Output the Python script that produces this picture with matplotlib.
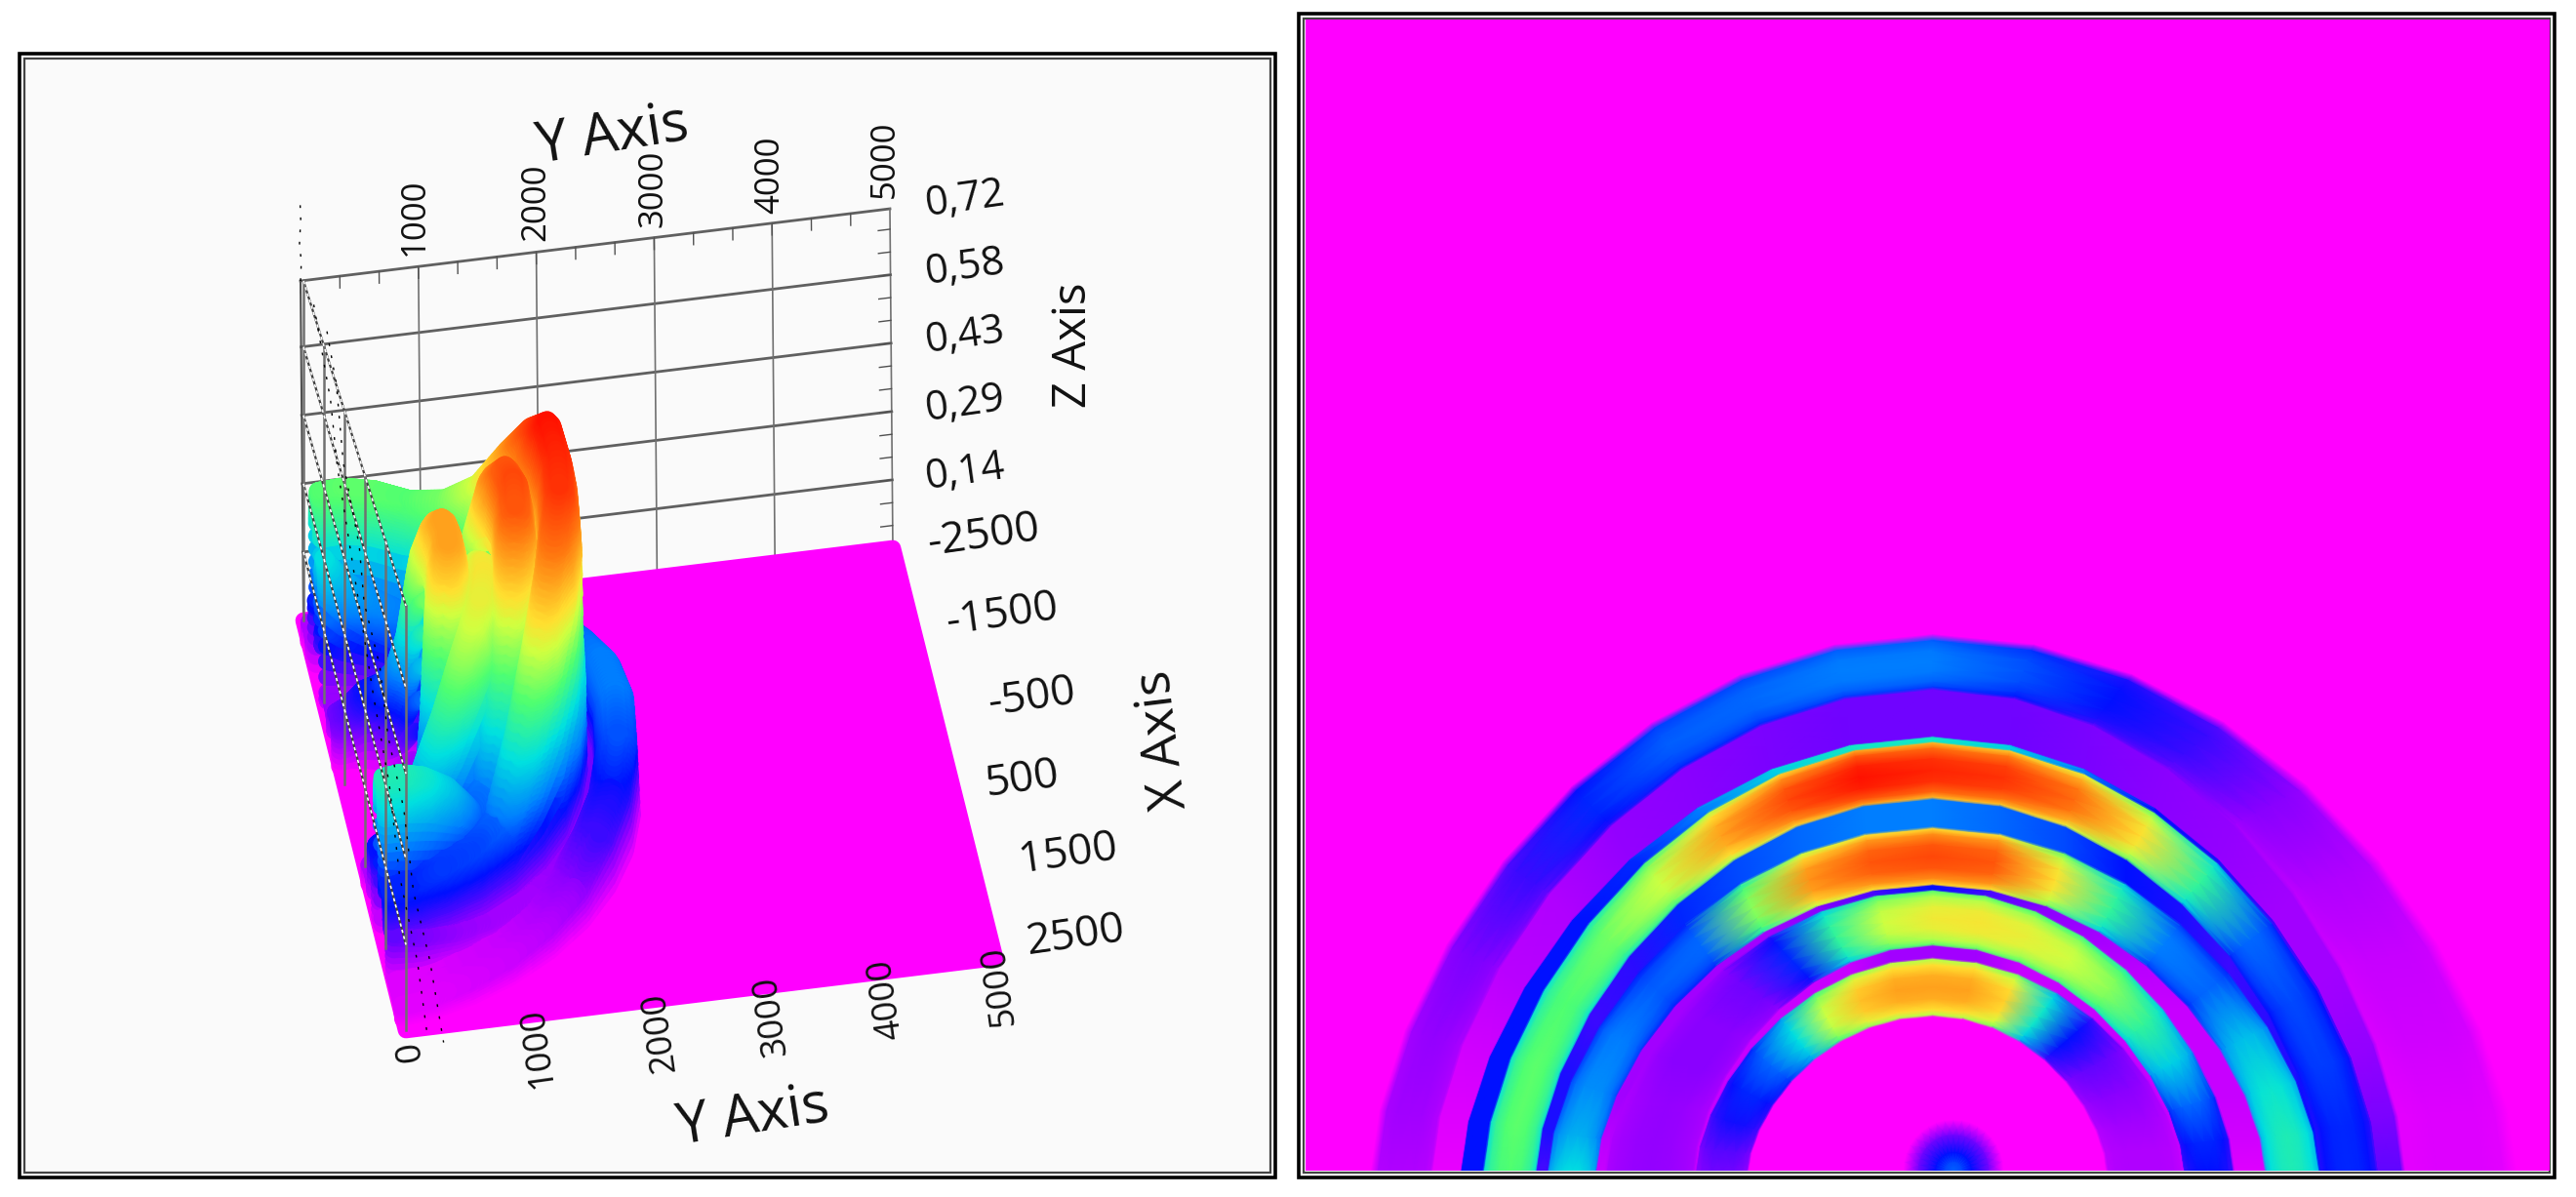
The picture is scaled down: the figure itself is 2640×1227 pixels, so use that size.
import numpy as np
import matplotlib
matplotlib.use("Agg")
import matplotlib.pyplot as plt
from matplotlib.colors import LinearSegmentedColormap
from matplotlib.patches import Rectangle

plt.rcParams['font.family'] = ['Open Sans', 'DejaVu Sans']

# ring outlines: Y at the crown, X at the bottom edge
band_names = ["a", "b", "bc", "c", "cd", "d", "de", "e", "ef", "f"]
band_domed = [True, False, False, True, False, True, False, True, False, True]
top_outer = [2330, 2093, 1881, 1864, 1614, 1491, 1237, 1220, 975, 924]
top_inner = [2093, 1881, 1864, 1614, 1491, 1237, 1220, 975, 924, 669]
left_outer = [2257, 2010, 1894, 1806, 1590, 1547, 1349, 1316, 953, 953]
left_inner = [2010, 1894, 1806, 1590, 1547, 1349, 1316, 953, 953, 739]
right_outer = [2347, 1885, 1786, 1786, 1555, 1555, 1335, 1210, 1006, 1006]
right_inner = [1885, 1786, 1786, 1555, 1555, 1335, 1210, 1006, 1006, 696]

# ring angle, 0 is the crown
angles = [-90, -80, -70, -60, -50, -40, -30, -20, -10, 0, 10, 20, 30, 40, 50, 60, 70, 80, 90]

# height along each ring, as a share of the colour scale
vals_a = [.07, .08, .09, .11, .16, .22, .27, .28, .30, .30, .26, .20, .16, .10, .07, .05, .04, .03, .03]
vals_b = [.02, .03, .04, .06, .07, .09, .10, .11, .12, .12, .12, .11, .10, .09, .08, .08, .09, .11, .13]
vals_bc = [.20, .20, .20, .20, .20, .22, .30, .40, .45, .45, .40, .30, .20, .18, .16, .15, .15, .15, .15]
vals_c = [.55, .56, .56, .55, .58, .66, .80, .92, 1.0, .97, .95, .87, .72, .50, .28, .25, .24, .22, .22]
vals_cd = [.15, .18, .18, .16, .17, .22, .25, .28, .30, .30, .28, .25, .20, .18, .16, .17, .18, .20, .22]
vals_d = [.42, .36, .32, .30, .27, .28, .60, .82, .90, .92, .90, .72, .50, .30, .28, .38, .44, .47, .47]
vals_de = [.05, .06, .08, .08, .08, .08, .08, .10, .15, .20, .15, .10, .08, .06, .05, .05, .05, .04, .03]
vals_e = [.09, .09, .09, .10, .10, .12, .22, .50, .66, .70, .71, .69, .66, .60, .50, .40, .28, .22, .20]
vals_ef = [.05, .05, .05, .05, .05, .05, .05, .05, .08, .08, .08, .05, .05, .05, .05, .05, .05, .05, .05]
vals_f = [.12, .14, .19, .22, .28, .42, .66, .76, .80, .80, .80, .74, .45, .20, .13, .10, .08, .07, .07]
band_vals = [vals_a, vals_b, vals_bc, vals_c, vals_cd, vals_d, vals_de, vals_e, vals_ef, vals_f]

# across a ring the height rises to the middle
dome_pos = [.03, .12, .30, .50, .70, .88, .97]
dome_share = [.80, .90, .98, 1.0, .98, .90, .80]
flat_pos = [.03, .97]
flat_share = [1.0, 1.0]

# small spot at the source, bottom of the top view
spot_values = [0, .12, .20, .30]
spot_radius = [1.0, .7, .35, 0.0]
spot_x = 104
spot_width = 200
spot_height = 220

# colour scale: magenta floor up to red crest
scale_stops = [0, .10, .20, .30, .42, .55, .66, .72, .85, 1]
scale_colors = ["#ff00ff", "#8800ff", "#0010ff", "#0080ff", "#00e0e0",
                "#50ff70", "#d0ff40", "#ffe030", "#ff7a10", "#ff1000"]

y_ticks = [0, 1000, 2000, 3000, 4000, 5000]
x_ticks = [-2500, -1500, -500, 500, 1500, 2500]
z_ticks = [0, .145, .29, .435, .58, .72]
z_labels = ["0,14", "0,29", "0,43", "0,58", "0,72"]

# jagged dashed traces left over in the front wall
trace0_x = [-2500, -2500, -2500, -2500, -2500]
trace0_y = [0, 8, -6, 6, 0]
trace0_z = [.72, .76, .80, .85, .90]
trace1_x = [-2200, -1900, -1400, -900, -500, 0, 500, 1000, 1600, 2100, 2700]
trace1_y = [170, 195, 165, 210, 180, 225, 205, 250, 225, 275, 285]
trace1_z = [.66, .60, .52, .43, .38, .33, .27, .20, .13, .07, 0]
trace2_x = [-2200, -1600, -1200, 300, 900, 1500, 2100, 2600]
trace2_y = [60, 95, 80, 120, 145, 125, 170, 165]
trace2_z = [.72, .62, .55, .32, .24, .15, .07, 0]

cmap = LinearSegmentedColormap.from_list("rings", list(zip(scale_stops, scale_colors)))
MAGENTA = "#ff00ff"
W, H = 2640, 1227
ARCH = 1.25  # rings are a bit more pointed than an ellipse


def ring_mesh():
    # stacks the rings from outside in
    t = np.radians(angles)
    xs, ys, vs = [], [], []
    for i in range(len(band_names)):
        vals = np.array(band_vals[i])
        pos = dome_pos if band_domed[i] else flat_pos
        share = dome_share if band_domed[i] else flat_share
        nodes = [(f, s * vals) for f, s in zip(pos, share)]
        if i == 0:
            # the outer ring fades out
            nodes = [(0.0, 0 * vals)] + [(f, s * vals) for f, s in zip(dome_pos[1:], dome_share[1:])]
        if i == len(band_names) - 1:
            nodes = nodes + [(1.0, 0 * vals)]
        for f, v in nodes:
            top = top_outer[i] + f * (top_inner[i] - top_outer[i])
            left = left_outer[i] + f * (left_inner[i] - left_outer[i])
            right = right_outer[i] + f * (right_inner[i] - right_outer[i])
            width = np.where(t < 0, left, right)
            xs.append(20 + width * np.sin(t))
            ys.append(top * np.abs(np.cos(t)) ** ARCH)
            vs.append(v)
    return np.array(xs).T, np.array(ys).T, np.array(vs).T


def resample(grid, ti, si):
    # bilinear lookup on the ring mesh
    t0 = np.clip(np.floor(ti).astype(int), 0, grid.shape[0] - 2)
    s0 = np.clip(np.floor(si).astype(int), 0, grid.shape[1] - 2)
    a = ti - t0
    b = si - s0
    return (grid[t0, s0] * (1 - a) * (1 - b) + grid[t0 + 1, s0] * a * (1 - b)
            + grid[t0, s0 + 1] * (1 - a) * b + grid[t0 + 1, s0 + 1] * a * b)


# projection of the left panel, pixel position of box corner and edges
origin = np.array([311.0, 636.0])
y_vec = np.array([604.0, -74.0]) / 5000
x_vec = np.array([105.0, 420.0]) / 5000
z_vec = np.array([-3.0, -348.0]) / .72


def project(x, y, z):
    x = np.asarray(x, dtype=float) + 2500
    y = np.asarray(y, dtype=float)
    z = np.asarray(z, dtype=float)
    return (origin[0] + x * x_vec[0] + y * y_vec[0] + z * z_vec[0],
            origin[1] + x * x_vec[1] + y * y_vec[1] + z * z_vec[1])


def front_wall(x, z):
    # the near wall is drawn a little larger than the back one
    x = np.asarray(x, dtype=float)
    bx, by = project(x, 0, 0)
    scale = 348 + (x + 2500) / 5000 * 87
    return bx + 0 * x, by - np.asarray(z) / .72 * scale


fig = plt.figure(figsize=(W / 100, H / 100), dpi=100)
ax = fig.add_axes([0, 0, 1, 1])
ax.set_xlim(0, W)
ax.set_ylim(H, 0)
ax.axis("off")

# frames
ax.add_patch(Rectangle((20, 55), 1287, 1152, fc="white", ec="black", lw=2.6, zorder=0))
ax.add_patch(Rectangle((25, 60), 1277, 1142, fc="#fafafa", ec="#444444", lw=1.6, zorder=0.1))
ax.add_patch(Rectangle((1331, 14), 1287, 1193, fc="white", ec="black", lw=2.6, zorder=0))
ax.add_patch(Rectangle((1336, 19), 1277, 1183, fc="none", ec="#444444", lw=1.6, zorder=3))

# back wall grid
for z in z_ticks[1:]:
    px, py = project([-2500, -2500], [0, 5000], [z, z])
    ax.plot(px, py, color="#606060", lw=2.0, zorder=1)
for y in y_ticks[1:]:
    px, py = project([-2500, -2500], [y, y], [0, .72])
    ax.plot(px, py, color="#707070", lw=1.2, zorder=1)
for y in np.arange(0, 5000, 1000 / 3):
    px, py = project([-2500, -2500], [y, y], [.72, .695])
    ax.plot(px, py, color="#505050", lw=1, zorder=1)
for z in np.arange(0, .72, .145 / 3):
    px, py = project([-2500, -2500], [5000, 4900], [z, z])
    ax.plot(px, py, color="#505050", lw=1, zorder=1)
px, py = project([-2500, -2500], [0, 0], [0, .72])
ax.plot(px, py, color="#505050", lw=1.5, zorder=1)

# floor
cx, cy = project([-2500, -2500, 2500, 2500], [0, 5000, 5000, 0], [0, 0, 0, 0])
ax.fill(cx, cy, fc=MAGENTA, ec=MAGENTA, lw=12, joinstyle="round", zorder=1.5)

# surface as points, painted from far to near
mesh_x, mesh_y, mesh_v = ring_mesh()
ti, si = np.meshgrid(np.linspace(0, mesh_x.shape[0] - 1, 190),
                     np.linspace(0, mesh_x.shape[1] - 1, 300), indexing="ij")
pts_x = resample(mesh_x, ti, si).ravel()
pts_y = resample(mesh_y, ti, si).ravel()
pts_v = resample(mesh_v, ti, si).ravel()
pts_z = pts_v * .76
depth = .806 * (pts_x + 2500) / 5000 - .135 * pts_y / 5000 + pts_z / .72
order = np.argsort(depth)
sx, sy = project(pts_x[order], pts_y[order], pts_z[order])
ax.scatter(sx, sy, c=pts_v[order], cmap=cmap, vmin=0, vmax=1, s=170, linewidths=0, zorder=2)

# near wall grid on top of the surface
for z in z_ticks[1:]:
    px, py = front_wall(np.array([-2500.0, 2500.0]), [z, z])
    ax.plot(px, py, color="#404040", lw=1.6, zorder=4)
    ax.plot(px, py, color="white", lw=1.2, dashes=(2, 2), zorder=4.1)
for x in x_ticks:
    px, py = front_wall(np.array([x, x], dtype=float), [0, .72])
    ax.plot(px, py, color="#707070", lw=1.8, zorder=4)

for tx, ty, tz in [(trace0_x, trace0_y, trace0_z), (trace1_x, trace1_y, trace1_z), (trace2_x, trace2_y, trace2_z)]:
    px, py = project(tx, ty, tz)
    ax.plot(px, py, color="black", lw=1, dashes=(2, 7), zorder=4.2)

# tick labels of the left panel
top_y_pos = [(425, 222), (549, 207), (669, 193), (789, 179), (907, 163)]
for lab, (tx, ty) in zip(y_ticks[1:], top_y_pos):
    ax.text(tx, ty, str(lab), rotation=90, fontsize=25, ha="center", va="center", color="#111111", zorder=5)
bottom_y_pos = [(421, 1078), (551, 1073), (677, 1058), (791, 1041), (909, 1024), (1024, 1010)]
for lab, (tx, ty) in zip(y_ticks, bottom_y_pos):
    ax.text(tx, ty, str(lab), rotation=98, fontsize=26, ha="center", va="center", color="#111111", zorder=5)
z_pos = [(989, 484), (989, 414), (989, 344), (989, 274), (989, 204)]
for lab, (tx, ty) in zip(z_labels, z_pos):
    ax.text(tx, ty, lab, rotation=8, fontsize=30, ha="center", va="center", color="#111111", zorder=5)
x_pos = [(1008, 550), (1027, 631), (1057, 716), (1047, 800), (1095, 876), (1103, 960)]
for lab, (tx, ty) in zip(x_ticks, x_pos):
    ax.text(tx, ty, str(lab), rotation=8, fontsize=32, ha="center", va="center", color="#111111", zorder=5)
ax.text(627, 139, "Y Axis", rotation=9, fontsize=42, ha="center", va="center", color="#111111")
ax.text(771, 1145, "Y Axis", rotation=9, fontsize=42, ha="center", va="center", color="#111111")
ax.text(1100, 354, "Z Axis", rotation=90, fontsize=34, ha="center", va="center", color="#111111")
ax.text(1192, 758, "X Axis", rotation=97, fontsize=38, ha="center", va="center", color="#111111")

# top view on the right
ax2 = fig.add_axes([1338 / W, 1 - 1200 / H, 1275 / W, 1180 / H])
ax2.set_xlim(-2500, 2500)
ax2.set_ylim(0, 5000)
ax2.set_facecolor(MAGENTA)
ax2.set_xticks([])
ax2.set_yticks([])
for sp in ax2.spines.values():
    sp.set_visible(False)
ax2.pcolormesh(mesh_x, mesh_y, mesh_v, shading="gouraud", cmap=cmap, vmin=0, vmax=1)
t = np.radians(angles)
spot_xs = np.array([spot_x + r * spot_width * np.sin(t) for r in spot_radius]).T
spot_ys = np.array([r * spot_height * np.cos(t) for r in spot_radius]).T
spot_vs = np.array([np.full(len(t), v) for v in spot_values]).T
ax2.pcolormesh(spot_xs, spot_ys, spot_vs, shading="gouraud", cmap=cmap, vmin=0, vmax=1)

fig.savefig("out.png", dpi=100)
